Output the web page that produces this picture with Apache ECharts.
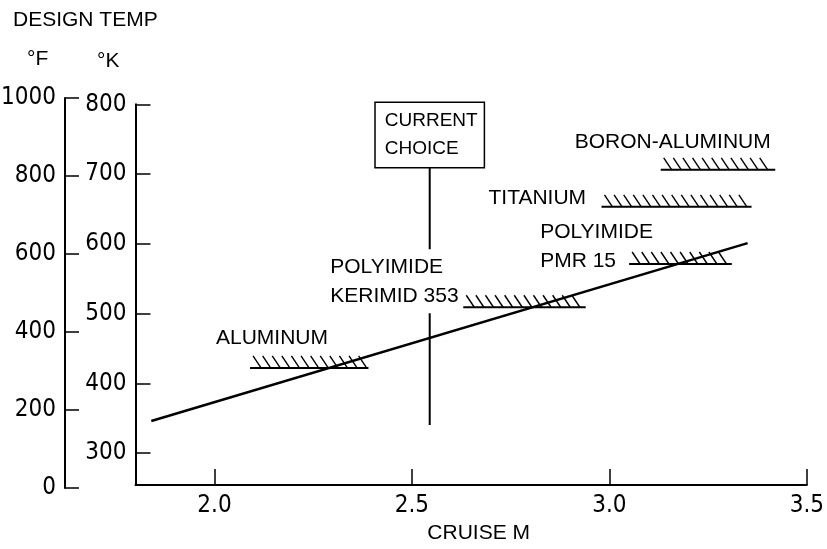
<!DOCTYPE html>
<html>
<head>
<meta charset="utf-8">
<script src="https://cdn.jsdelivr.net/npm/echarts@6/dist/echarts.min.js"></script>
<style>html,body{margin:0;padding:0;background:#fff}#c{width:827px;height:549px}</style>
</head>
<body>
<div id="c"></div>
<script>
// ---- data ----
const machTicks = [2.0, 2.5, 3.0, 3.5];
const kelvinTicks = [300, 400, 500, 600, 700, 800];
const fahrenheitTicks = [0, 200, 400, 600, 800, 1000];
const trendMach = [1.84, 3.35];
const trendTempK = [346, 601];
const currentChoiceMach = [2.545, 2.545];
const currentChoiceTempK = [340, 710];
const materials = ['ALUMINUM', 'POLYIMIDE\nKERIMID 353', 'TITANIUM', 'POLYIMIDE\nPMR 15', 'BORON-ALUMINUM'];
const materialMachStart = [2.09, 2.63, 2.98, 3.05, 3.13];
const materialMachEnd = [2.39, 2.94, 3.36, 3.31, 3.42];
const materialTempK = [422, 509, 653, 571, 706];

// ---- styles (pixel offsets of the labels from each hatch's start) ----
const labelOffsets = [[-34, -30], [-133, -26], [-113, -9], [-89, -17], [-86, -28]];
const NARROW = '"Liberation Sans Narrow", "Arial Narrow", "DejaVu Sans Condensed", sans-serif';
const SANS = '"Liberation Sans", Arial, sans-serif';

const chart = echarts.init(document.getElementById('c'), null, {renderer: 'canvas'});

const trendData = trendMach.map((m, i) => [m, trendTempK[i]]);
const choiceData = currentChoiceMach.map((m, i) => [m, currentChoiceTempK[i]]);
const hatchData = materials.map((n, i) => ({name: n, value: [materialMachStart[i], materialMachEnd[i], materialTempK[i]]}));

const axisLineStyle = {color: '#000', width: 2};

chart.setOption({
  animation: false,
  backgroundColor: '#fff',
  title: [
    {text: 'DESIGN TEMP', left: 13, top: 10, padding: 0, textStyle: {fontFamily: SANS, fontSize: 21, fontWeight: 'normal', color: '#000'}},
    {text: '°F', left: 27, top: 49, padding: 0, textStyle: {fontFamily: SANS, fontSize: 21, fontWeight: 'normal', color: '#000'}},
    {text: '°K', left: 97, top: 51, padding: 0, textStyle: {fontFamily: SANS, fontSize: 21, fontWeight: 'normal', color: '#000'}}
  ],
  grid: [
    {left: 64, top: 98, width: 1, bottom: 61, containLabel: false},
    {left: 135.5, top: 104.3, right: 18.7, bottom: 62, containLabel: false}
  ],
  xAxis: [
    {gridIndex: 0, type: 'value', min: 0, max: 1, show: false},
    {
      gridIndex: 1, type: 'value', min: 1.8, max: 3.5,
      axisLine: {show: true, onZero: false, lineStyle: axisLineStyle},
      axisTick: {show: true, inside: true, length: 16, customValues: machTicks, lineStyle: {color: '#000', width: 1.5}},
      axisLabel: {customValues: machTicks, formatter: v => v.toFixed(1), color: '#000', fontFamily: NARROW, fontSize: 24, margin: 9},
      splitLine: {show: false},
      name: 'CRUISE M', nameLocation: 'middle', nameGap: 36,
      nameTextStyle: {color: '#000', fontFamily: SANS, fontSize: 21, padding: [0, 0, 0, 15]}
    }
  ],
  yAxis: [
    {
      gridIndex: 0, type: 'value', min: 0, max: 1000, interval: 200, position: 'left',
      axisLine: {show: true, onZero: false, lineStyle: axisLineStyle},
      axisTick: {show: true, inside: true, length: 14, lineStyle: {color: '#000', width: 1.5}},
      axisLabel: {color: '#000', fontFamily: NARROW, fontSize: 24, margin: 9, formatter: v => String(v)},
      splitLine: {show: false}
    },
    {
      gridIndex: 1, type: 'value', min: 254, max: 800, position: 'left',
      axisLine: {show: true, onZero: false, lineStyle: axisLineStyle},
      axisTick: {show: true, inside: true, length: 15, customValues: kelvinTicks, lineStyle: {color: '#000', width: 1.5}},
      axisLabel: {customValues: kelvinTicks, color: '#000', fontFamily: NARROW, fontSize: 24, margin: 9, formatter: v => String(v)},
      splitLine: {show: false}
    }
  ],
  series: [
    {
      type: 'line', xAxisIndex: 1, yAxisIndex: 1, data: trendData, symbol: 'none', z: 2,
      lineStyle: {color: '#000', width: 2.5}
    },
    {
      type: 'line', xAxisIndex: 1, yAxisIndex: 1, data: choiceData, symbol: 'none', z: 2,
      lineStyle: {color: '#000', width: 2}
    },
    {
      type: 'scatter', xAxisIndex: 1, yAxisIndex: 1, z: 6, symbolSize: 0,
      itemStyle: {opacity: 1, color: '#000'},
      data: [choiceData[1]],
      label: {
        show: true, position: 'top', distance: 0, color: '#000',
        formatter: '{a|CURRENT}\n{a|CHOICE}',
        backgroundColor: '#fff', borderColor: '#000', borderWidth: 1.5,
        padding: [4, 6, 4, 9],
        rich: {a: {fontFamily: SANS, fontSize: 19, lineHeight: 28, color: '#000', align: 'left'}}
      },
      emphasis: {disabled: true}
    },
    {
      type: 'custom', xAxisIndex: 1, yAxisIndex: 1, z: 5,
      data: hatchData,
      encode: {x: [0, 1], y: 2},
      renderItem: function (params, api) {
        const i = params.dataIndex;
        const p1 = api.coord([api.value(0), api.value(2)]);
        const p2 = api.coord([api.value(1), api.value(2)]);
        const y = p1[1];
        const children = [{
          type: 'line', shape: {x1: p1[0], y1: y, x2: p2[0], y2: y},
          style: {stroke: '#000', lineWidth: 2}
        }];
        const h = 12, dx = 8, step = 9.6;
        for (let x = p1[0] + 3; x + dx <= p2[0] + 0.5; x += step) {
          children.push({type: 'line', shape: {x1: x, y1: y - h, x2: x + dx, y2: y},
            style: {stroke: '#000', lineWidth: 1.4}});
        }
        const off = labelOffsets[i];
        children.push({
          type: 'text', z2: 10,
          style: {
            text: materials[i], x: p1[0] + off[0], y: y + off[1],
            fill: '#000', fontFamily: SANS, fontSize: 21, lineHeight: 29,
            align: 'left', verticalAlign: 'middle',
            backgroundColor: i === 1 ? '#fff' : null, padding: i === 1 ? [3, 0, 3, 0] : 0
          }
        });
        return {type: 'group', children: children};
      }
    }
  ]
});
</script>
</body>
</html>
